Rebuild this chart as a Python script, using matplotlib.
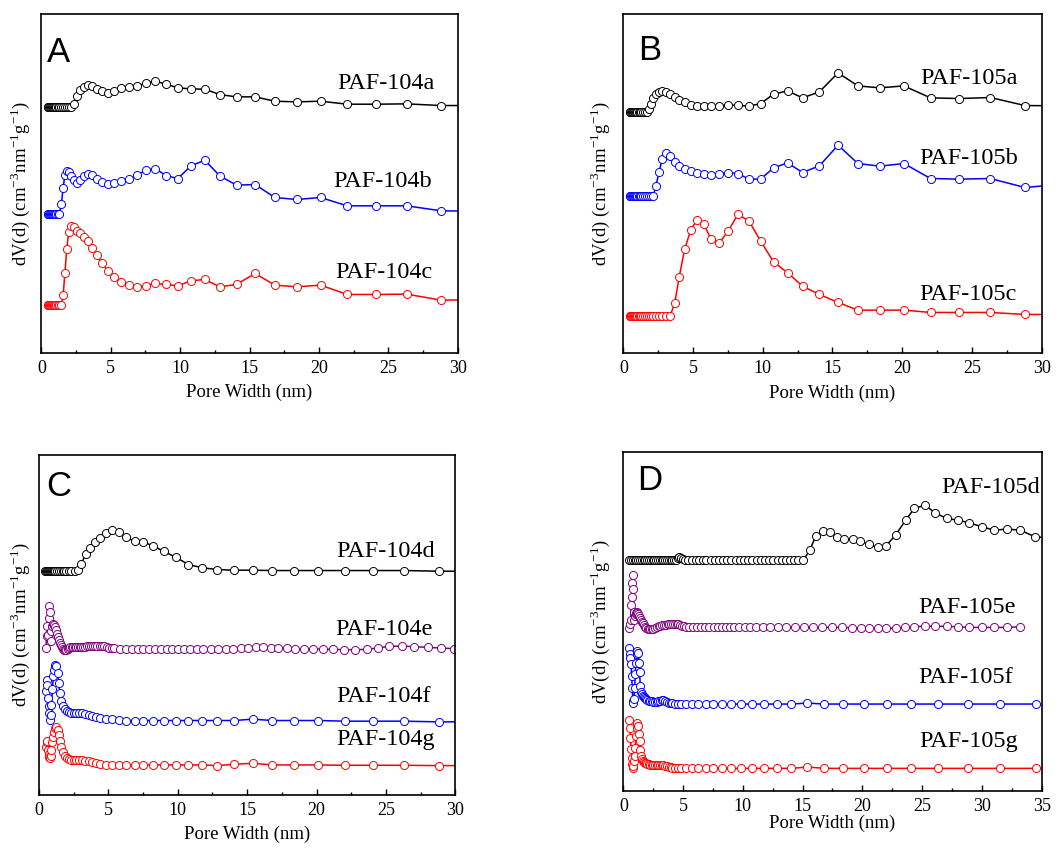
import matplotlib
matplotlib.use('Agg')
import matplotlib.pyplot as plt
from matplotlib.ticker import MultipleLocator

plt.rcParams['font.family'] = ['Liberation Serif', 'DejaVu Serif']
plt.rcParams['mathtext.fontset'] = 'stix'

# common pore-width grid (nm) for panels A, B and PAF-104d
x_grid = [0.45, 0.50, 0.56, 0.62, 0.69, 0.76, 0.84, 0.92, 1.00, 1.09,
          1.18, 1.30, 1.44, 1.57, 1.70, 1.83, 1.97, 2.14, 2.33, 2.57,
          2.79, 3.05, 3.36, 3.68, 4.01, 4.40, 4.83, 5.26, 5.77, 6.29,
          6.89, 7.52, 8.22, 9.00, 9.85, 10.77, 11.78, 12.85, 14.06, 15.40,
          16.82, 18.40, 20.12, 22.03, 24.08, 26.32, 28.80, 31.50]

paf104a = [73.8, 73.8, 73.8, 73.8, 73.8, 73.8, 73.8, 73.8, 73.8, 73.8,
           73.8, 73.8, 73.8, 73.8, 73.8, 73.8, 73.8, 73.8, 74.8, 77.0,
           78.8, 79.8, 80.3, 80.0, 79.2, 78.6, 78.1, 78.7, 79.4, 79.8,
           80.1, 80.9, 81.5, 80.6, 79.5, 79.2, 79.1, 77.5, 76.8, 76.8,
           75.5, 75.3, 75.5, 74.6, 74.6, 74.7, 74.2, 74.2]
paf104b = [41.5, 41.5, 41.5, 41.5, 41.5, 41.5, 41.5, 41.5, 41.5, 41.5,
           41.5, 41.6, 44.5, 49.5, 53.5, 54.6, 54.2, 53.0, 51.8, 51.0,
           51.8, 53.0, 53.8, 53.3, 52.3, 51.4, 50.8, 51.0, 51.6, 52.2,
           53.3, 54.8, 55.3, 53.1, 52.3, 56.1, 57.8, 53.1, 50.3, 50.5,
           46.6, 46.0, 46.6, 44.1, 44.1, 44.1, 42.6, 42.5]
paf104c = [14.3, 14.3, 14.3, 14.3, 14.3, 14.3, 14.3, 14.3, 14.3, 14.3,
           14.3, 14.3, 14.4, 17.3, 24.0, 31.0, 36.3, 38.0, 37.6, 36.6,
           35.8, 34.8, 33.5, 31.5, 29.2, 26.8, 24.4, 22.6, 21.3, 20.2,
           19.8, 20.1, 20.8, 20.5, 20.1, 21.6, 22.0, 19.8, 20.5, 23.8,
           20.3, 19.8, 20.3, 17.5, 17.5, 17.6, 15.8, 15.9]

paf105a = [72.3, 72.3, 72.3, 72.3, 72.3, 72.3, 72.3, 72.3, 72.3, 72.3,
           72.3, 72.3, 72.3, 72.3, 72.3, 73.1, 74.8, 76.4, 77.8, 78.4,
           78.5, 78.2, 77.6, 76.8, 76.0, 75.2, 74.5, 74.2, 74.2, 74.1,
           74.2, 74.3, 74.3, 74.0, 74.8, 77.6, 78.6, 76.5, 78.3, 84.0,
           80.1, 79.5, 80.1, 76.5, 76.3, 76.6, 74.2, 74.1]
paf105b = [47.1, 47.1, 47.1, 47.1, 47.1, 47.1, 47.1, 47.1, 47.1, 47.1,
           47.1, 47.1, 47.1, 47.1, 47.1, 47.1, 47.1, 47.1, 50.0, 54.3,
           58.3, 59.9, 59.0, 57.3, 56.1, 55.3, 54.5, 54.0, 53.8, 53.5,
           53.8, 54.1, 53.8, 52.1, 52.1, 55.5, 57.0, 54.1, 56.1, 62.3,
           56.8, 56.0, 56.8, 52.3, 52.1, 52.3, 49.6, 50.6]
paf105c = [11.1, 11.1, 11.1, 11.1, 11.1, 11.1, 11.1, 11.1, 11.1, 11.1,
           11.1, 11.1, 11.1, 11.1, 11.1, 11.1, 11.1, 11.1, 11.1, 11.1,
           11.1, 11.1, 11.1, 14.8, 22.8, 31.1, 36.8, 39.8, 38.6, 34.1,
           33.0, 36.6, 41.5, 39.6, 33.5, 27.3, 24.0, 20.0, 17.5, 15.1,
           12.8, 12.8, 12.8, 12.1, 12.1, 12.1, 11.5, 11.5]

paf104d = [67.0, 67.0, 67.0, 67.0, 67.0, 67.0, 67.0, 67.0, 67.0, 67.0,
           67.0, 67.0, 67.0, 67.0, 67.0, 67.0, 67.0, 67.0, 67.0, 67.0,
           67.4, 69.3, 72.0, 73.8, 75.6, 76.9, 78.3, 79.2, 78.7, 77.1,
           76.0, 75.7, 74.6, 72.9, 71.2, 69.0, 68.0, 67.5, 67.3, 67.3,
           67.2, 67.2, 67.2, 67.2, 67.2, 67.2, 67.0, 67.0]

x_104e = [0.50, 0.55, 0.60, 0.65, 0.70, 0.75, 0.80, 0.85, 0.90, 0.96,
          1.02, 1.08, 1.14, 1.20, 1.27, 1.34, 1.41, 1.48, 1.56, 1.64,
          1.72, 1.80, 1.89, 1.98, 2.07, 2.16, 2.26, 2.36, 2.46, 2.57,
          2.68, 2.80, 2.92, 3.05, 3.18, 3.32, 3.46, 3.60, 3.75, 3.90,
          4.05, 4.21, 4.37, 4.54, 4.71, 4.89, 5.07, 5.25, 5.43, 5.83,
          6.27, 6.68, 7.11, 7.52, 7.93, 8.34, 8.77, 9.20, 9.61, 10.04,
          10.45, 10.88, 11.36, 11.84, 12.37, 12.92, 13.45, 14.00, 14.53, 15.08,
          15.64, 16.17, 16.69, 17.25, 17.85, 18.45, 19.10, 19.77, 20.44, 21.21,
          21.98, 22.77, 23.61, 24.40, 25.24, 26.13, 27.04, 28.00, 28.97, 29.93]
paf104e = [44.0, 47.5, 50.5, 48.0, 53.0, 56.5, 54.7, 49.0, 46.0, 50.5,
           51.2, 51.0, 50.3, 49.3, 48.2, 47.2, 46.3, 45.5, 44.8, 44.2,
           43.7, 43.4, 43.3, 43.4, 43.7, 44.0, 44.2, 44.3, 44.3, 44.3,
           44.3, 44.3, 44.3, 44.3, 44.4, 44.4, 44.5, 44.6, 44.6, 44.7,
           44.7, 44.7, 44.7, 44.6, 44.5, 44.3, 44.1, 44.0, 43.9, 43.8,
           43.8, 43.8, 43.8, 43.8, 43.8, 43.8, 43.8, 43.8, 43.8, 43.8,
           43.8, 43.8, 43.8, 43.8, 43.8, 43.8, 43.8, 43.8, 44.0, 44.1,
           44.2, 44.2, 44.1, 44.0, 43.9, 43.8, 43.8, 43.7, 43.7, 43.6,
           43.5, 43.5, 43.6, 44.0, 44.5, 44.6, 44.4, 44.2, 44.0, 43.8]

x_104fg = [0.50, 0.55, 0.60, 0.65, 0.70, 0.75, 0.80, 0.85, 0.90, 0.97,
           1.03, 1.10, 1.18, 1.26, 1.34, 1.42, 1.50, 1.60, 1.72, 1.86,
           2.00, 2.15, 2.32, 2.50, 2.70, 2.90, 3.10, 3.34, 3.58, 3.84,
           4.10, 4.40, 4.83, 5.26, 5.77, 6.29, 6.89, 7.52, 8.22, 9.00,
           9.85, 10.77, 11.78, 12.85, 14.06, 15.40, 16.82, 18.40, 20.12, 22.03,
           24.08, 26.32, 28.80, 31.50]
paf104f = [31.0, 34.5, 33.0, 29.0, 26.7, 24.5, 22.5, 24.0, 27.0, 31.7,
           35.5, 37.5, 39.0, 38.5, 36.5, 33.5, 30.5, 28.0, 26.5, 25.6,
           25.0, 24.8, 24.6, 24.5, 24.5, 24.5, 24.4, 24.3, 24.0, 23.7,
           23.5, 23.1, 22.8, 22.7, 22.5, 22.3, 22.3, 22.3, 22.3, 22.3,
           22.3, 22.3, 22.3, 22.3, 22.3, 22.7, 22.3, 22.3, 22.3, 22.1,
           22.1, 22.1, 21.9, 21.9]
paf104g = [14.5, 16.0, 16.3, 13.5, 12.2, 11.5, 11.0, 11.8, 13.5, 16.0,
           17.5, 19.0, 20.0, 20.3, 19.5, 18.0, 16.3, 14.5, 13.0, 11.7,
           11.0, 10.7, 10.6, 10.5, 10.5, 10.5, 10.4, 10.3, 10.1, 9.8,
           9.5, 9.3, 9.1, 9.0, 9.0, 9.0, 9.0, 9.0, 9.0, 9.0,
           9.0, 9.0, 9.0, 8.8, 9.2, 9.5, 9.0, 9.0, 9.0, 8.9,
           8.9, 8.9, 8.8, 8.8]

x_105d = [0.50, 0.65, 0.80, 0.95, 1.10, 1.25, 1.40, 1.55, 1.70, 1.85,
          2.00, 2.15, 2.30, 2.45, 2.60, 2.75, 2.90, 3.05, 3.20, 3.35,
          3.50, 3.65, 3.80, 3.95, 4.10, 4.25, 4.40, 4.55, 4.70, 4.85,
          5.00, 5.20, 5.45, 5.75, 6.05, 6.35, 6.65, 6.95, 7.30, 7.65,
          8.00, 8.35, 8.70, 9.05, 9.40, 9.75, 10.10, 10.45, 10.80, 11.15,
          11.50, 11.85, 12.20, 12.55, 12.90, 13.25, 13.60, 13.95, 14.30, 14.65,
          15.06, 15.60, 16.10, 16.70, 17.30, 17.85, 18.50, 19.20, 19.80, 20.55,
          21.28, 21.97, 22.78, 23.62, 24.34, 25.24, 26.07, 27.05, 27.97, 28.95,
          29.98, 31.04, 32.10, 33.20, 34.44, 35.50]
paf105d = [69.3, 69.3, 69.3, 69.3, 69.3, 69.3, 69.3, 69.3, 69.3, 69.3,
           69.3, 69.3, 69.3, 69.3, 69.3, 69.3, 69.3, 69.3, 69.3, 69.3,
           69.3, 69.3, 69.3, 69.3, 69.3, 69.3, 69.3, 69.8, 70.3, 70.0,
           69.6, 69.3, 69.3, 69.3, 69.3, 69.3, 69.3, 69.3, 69.3, 69.3,
           69.3, 69.3, 69.3, 69.3, 69.3, 69.3, 69.3, 69.3, 69.3, 69.3,
           69.3, 69.3, 69.3, 69.3, 69.3, 69.3, 69.3, 69.3, 69.3, 69.3,
           69.3, 72.3, 76.5, 78.0, 77.6, 76.3, 75.6, 75.6, 75.0, 74.0,
           73.1, 73.6, 76.8, 81.3, 84.8, 85.8, 83.5, 81.8, 81.3, 80.5,
           79.3, 78.3, 78.6, 78.3, 76.3, 76.0]

x_105e = [0.50, 0.55, 0.61, 0.66, 0.71, 0.76, 0.80, 0.84, 0.88, 0.92,
          0.97, 1.02, 1.06, 1.12, 1.18, 1.25, 1.32, 1.39, 1.47, 1.55,
          1.62, 1.70, 1.81, 1.92, 2.03, 2.14, 2.25, 2.37, 2.50, 2.65,
          2.80, 2.95, 3.10, 3.25, 3.40, 3.55, 3.70, 3.85, 4.00, 4.15,
          4.30, 4.45, 4.60, 4.75, 4.90, 5.05, 5.25, 5.50, 5.80, 6.15,
          6.50, 6.85, 7.20, 7.55, 7.90, 8.25, 8.60, 8.95, 9.30, 9.70,
          10.15, 10.60, 11.10, 11.65, 12.25, 12.90, 13.60, 14.36, 15.11, 15.84,
          16.62, 17.43, 18.26, 19.10, 19.88, 20.58, 21.28, 21.97, 22.78, 23.56,
          24.34, 25.24, 26.07, 27.05, 27.97, 28.95, 29.98, 31.04, 32.10, 33.20]
paf105e = [48.8, 50.0, 51.3, 55.8, 58.3, 62.3, 64.8, 60.5, 53.8, 51.3,
           52.5, 53.1, 53.5, 53.6, 53.4, 53.1, 52.6, 52.0, 51.4, 50.8,
           50.3, 49.8, 49.3, 48.9, 48.6, 48.5, 48.5, 48.5, 48.6, 48.8,
           49.1, 49.4, 49.6, 49.7, 49.8, 49.9, 50.0, 50.1, 50.2, 50.2,
           50.2, 50.1, 50.0, 49.8, 49.6, 49.4, 49.3, 49.2, 49.1, 49.1,
           49.1, 49.1, 49.1, 49.1, 49.1, 49.1, 49.1, 49.1, 49.1, 49.1,
           49.1, 49.1, 49.1, 49.1, 49.1, 49.1, 49.1, 49.1, 49.1, 49.1,
           49.1, 49.1, 49.1, 49.0, 48.9, 48.8, 48.8, 48.8, 48.9, 49.1,
           49.3, 49.5, 49.5, 49.4, 49.3, 49.1, 49.1, 49.1, 49.1, 49.3]

x_105fg = [0.50, 0.55, 0.60, 0.65, 0.70, 0.75, 0.80, 0.85, 0.90, 0.95,
           1.00, 1.06, 1.12, 1.18, 1.24, 1.30, 1.36, 1.42, 1.48, 1.55,
           1.62, 1.70, 1.80, 1.90, 2.00, 2.12, 2.24, 2.36, 2.50, 2.64,
           2.78, 2.92, 3.06, 3.20, 3.35, 3.50, 3.65, 3.80, 3.95, 4.10,
           4.30, 4.55, 4.83, 5.26, 5.77, 6.29, 6.89, 7.52, 8.22, 9.00,
           9.85, 10.77, 11.78, 12.85, 14.06, 15.40, 16.82, 18.40, 20.12, 22.03,
           24.08, 26.32, 28.80, 31.50, 34.50]
paf105f = [42.8, 41.0, 39.8, 38.0, 34.5, 30.8, 27.0, 26.3, 27.5, 31.0,
           35.0, 38.5, 41.0, 42.0, 41.3, 38.3, 35.8, 31.5, 29.8, 29.0,
           28.6, 28.3, 27.8, 27.5, 27.3, 27.1, 27.0, 26.9, 26.8, 26.8,
           26.8, 26.9, 27.1, 27.3, 27.3, 26.9, 26.6, 26.5, 26.4, 26.3,
           26.2, 26.1, 26.1, 26.1, 26.1, 26.1, 26.1, 26.1, 26.1, 26.1,
           26.1, 26.1, 26.1, 26.1, 26.1, 26.4, 26.1, 26.1, 26.1, 26.1,
           26.1, 26.1, 26.1, 26.1, 26.1]
paf105g = [21.3, 19.0, 16.0, 12.5, 10.0, 8.0, 6.8, 7.5, 9.0, 10.5,
           13.0, 16.5, 19.0, 20.3, 19.5, 17.1, 15.0, 12.3, 10.5, 9.5,
           9.1, 8.8, 8.5, 8.3, 8.1, 8.0, 7.9, 7.8, 7.8, 7.8,
           7.8, 7.8, 7.8, 7.8, 7.8, 7.6, 7.4, 7.2, 7.1, 7.0,
           6.9, 6.8, 6.8, 6.8, 6.8, 6.8, 6.8, 6.8, 6.8, 6.8,
           6.8, 6.8, 6.8, 6.8, 6.8, 7.2, 6.8, 6.8, 6.8, 6.8,
           6.8, 6.8, 6.8, 6.8, 6.8]

BLACK, BLUE, RED, PURPLE = '#000000', '#0000FF', '#FF0000', '#800080'
ylab = r'dV(d) (cm$^{\mathregular{-3}}$nm$^{\mathregular{-1}}$g$^{\mathregular{-1}}$)'

fig = plt.figure(figsize=(10.57, 8.48), dpi=100)


def panel(rect, xmax, series, labels, letter, letter_xy, ylab_x, xlab_y):
    ax = fig.add_axes(rect)
    for x, y, c in series:
        ax.plot(x, y, '-o', color=c, lw=1.1, ms=5.8, mfc='white', mec=c, mew=0.7)
    for txt, tx, ty in labels:
        ax.text(tx, ty, txt, ha='right', va='baseline', fontsize=17.5)
    ax.text(letter_xy[0], letter_xy[1], letter, transform=ax.transAxes,
            fontsize=25, family='Liberation Sans', va='baseline')
    ax.set_xlim(0, xmax)
    ax.set_ylim(0, 101.8)
    ax.set_yticks([])
    ax.xaxis.set_major_locator(MultipleLocator(5))
    ax.xaxis.set_minor_locator(MultipleLocator(2.5))
    ax.tick_params(axis='x', which='both', direction='in', labelsize=13, pad=5)
    ax.tick_params(axis='x', which='major', length=4, width=1)
    ax.tick_params(axis='x', which='minor', length=2.5, width=1)
    for s in ax.spines.values():
        s.set_linewidth(1.2)
    ax.set_xlabel('Pore Width (nm)', fontsize=13.5)
    ax.set_ylabel(ylab, fontsize=13.5)
    ax.xaxis.set_label_coords(0.5, xlab_y)
    ax.yaxis.set_label_coords(ylab_x, 0.5)
    return ax


panel([0.0391, 0.584, 0.394, 0.400], 30,
      [(x_grid, paf104a, BLACK), (x_grid, paf104b, BLUE), (x_grid, paf104c, RED)],
      [('PAF-104a', 28.3, 79.3), ('PAF-104b', 28.1, 49.8), ('PAF-104c', 28.2, 22.5)],
      'A', (0.014, 0.857), -0.023, -0.09)

panel([0.5897, 0.584, 0.3958, 0.400], 30,
      [(x_grid, paf105a, BLACK), (x_grid, paf105b, BLUE), (x_grid, paf105c, RED)],
      [('PAF-105a', 28.3, 80.6), ('PAF-105b', 28.3, 56.6), ('PAF-105c', 28.2, 15.8)],
      'B', (0.036, 0.864), -0.028, -0.095)

panel([0.0369, 0.0625, 0.3939, 0.401], 30,
      [(x_grid, paf104d, BLACK), (x_104e, paf104e, PURPLE),
       (x_104fg, paf104f, BLUE), (x_104fg, paf104g, RED)],
      [('PAF-104d', 28.5, 71.3), ('PAF-104e', 28.4, 47.8),
       ('PAF-104f', 28.25, 27.7), ('PAF-104g', 28.5, 15.0)],
      'C', (0.018, 0.879), -0.0175, -0.09)

panel([0.5897, 0.0672, 0.3958, 0.400], 35,
      [(x_105d, paf105d, BLACK), (x_105e, paf105e, PURPLE),
       (x_105fg, paf105f, BLUE), (x_105fg, paf105g, RED)],
      [('PAF-105d', 34.86, 89.5), ('PAF-105e', 32.85, 53.5),
       ('PAF-105f', 32.6, 32.3), ('PAF-105g', 33.0, 13.1)],
      'D', (0.033, 0.887), -0.028, -0.07)

fig.savefig('out.png', dpi=100)
